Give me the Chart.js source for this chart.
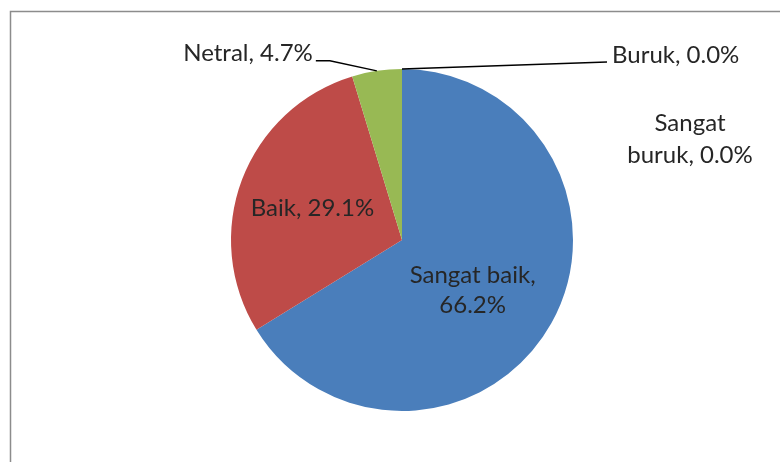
<!DOCTYPE html>
<html>
<head>
<meta charset="utf-8">
<script src="https://cdn.jsdelivr.net/npm/chart.js@4.4.1/dist/chart.umd.min.js"></script>
<style>
  html, body { margin: 0; padding: 0; background: #fff; }
  #wrap { width: 780px; height: 462px; }
</style>
</head>
<body>
<div id="wrap"><canvas id="pieChart" width="780" height="462"></canvas></div>
<script>
const categories = ['Sangat baik', 'Baik', 'Netral', 'Buruk', 'Sangat buruk'];
const percentages = [66.2, 29.1, 4.7, 0.0, 0.0];
const sliceColors = ['#4a7ebb', '#be4b48', '#98b954', '#7d60a0', '#46aac5'];

const FONT = '24px Lato, "Noto Sans", sans-serif';
const TEXT_COLOR = '#262626';

// gray frame around the plot, it runs off the right and bottom edges
const framePlugin = {
    id: 'frame',
    beforeDraw(chart) {
        const ctx = chart.ctx;
        ctx.save();
        ctx.strokeStyle = '#8c8c8c';
        ctx.lineWidth = 1.5;
        ctx.strokeRect(10.5, 11.5, 800, 500);
        ctx.restore();
    }
};

function fmt(v) {
    return v.toFixed(1) + '%';
}

// data labels placed like the office chart: inside for big slices, leader lines for small ones
const labelPlugin = {
    id: 'sliceLabels',
    afterDatasetsDraw(chart) {
        const ctx = chart.ctx;
        const arcs = chart.getDatasetMeta(0).data;
        ctx.save();
        ctx.font = FONT;
        ctx.fillStyle = TEXT_COLOR;
        ctx.strokeStyle = '#000';
        ctx.lineWidth = 1.5;
        ctx.textBaseline = 'middle';

        arcs.forEach((arc, i) => {
            const { x, y, startAngle, endAngle, outerRadius } = arc.getProps(['x', 'y', 'startAngle', 'endAngle', 'outerRadius'], true);
            const mid = (startAngle + endAngle) / 2;
            const name = categories[i];
            const val = fmt(percentages[i]);

            if (i === 0) {
                const lx = x + Math.cos(mid) * outerRadius * 0.5 - 4;
                const ly = y + Math.sin(mid) * outerRadius * 0.5 + 9;
                ctx.textAlign = 'center';
                ctx.fillText(name + ',', lx, ly - 15);
                ctx.fillText(val, lx, ly + 15);
            } else if (i === 1) {
                const lx = x + Math.cos(mid) * outerRadius * 0.56;
                const ly = y + Math.sin(mid) * outerRadius * 0.56 + 2;
                ctx.textAlign = 'center';
                ctx.fillText(name + ', ' + val, lx, ly);
            } else if (i === 2) {
                const ex = x + Math.cos(mid) * outerRadius;
                const ey = y + Math.sin(mid) * outerRadius;
                ctx.beginPath();
                ctx.moveTo(ex, ey);
                ctx.lineTo(ex - 47, ey - 10);
                ctx.lineTo(ex - 61, ey - 10);
                ctx.stroke();
                ctx.textAlign = 'right';
                ctx.fillText(name + ', ' + val, ex - 64, ey - 18);
            } else if (i === 3) {
                const ex = x + Math.cos(mid) * outerRadius;
                const ey = y + Math.sin(mid) * outerRadius;
                ctx.beginPath();
                ctx.moveTo(ex, ey);
                ctx.lineTo(ex + 205, ey - 7);
                ctx.stroke();
                ctx.textAlign = 'left';
                ctx.fillText(name + ', ' + val, ex + 210, ey - 14);
            } else {
                const lx = x + 288;
                const ly = y - 117;
                const parts = name.split(' ');
                ctx.textAlign = 'center';
                ctx.fillText(parts[0], lx, ly);
                ctx.fillText(parts[1] + ', ' + val, lx, ly + 32);
            }
        });
        ctx.restore();
    }
};

new Chart(document.getElementById('pieChart'), {
    type: 'pie',
    data: {
        labels: categories,
        datasets: [{
            data: percentages,
            backgroundColor: sliceColors,
            borderWidth: 0
        }]
    },
    options: {
        responsive: false,
        animation: false,
        layout: { padding: { left: 231, right: 207, top: 69, bottom: 51 } },
        plugins: {
            legend: { display: false },
            tooltip: { enabled: false }
        }
    },
    plugins: [framePlugin, labelPlugin]
});
</script>
</body>
</html>
